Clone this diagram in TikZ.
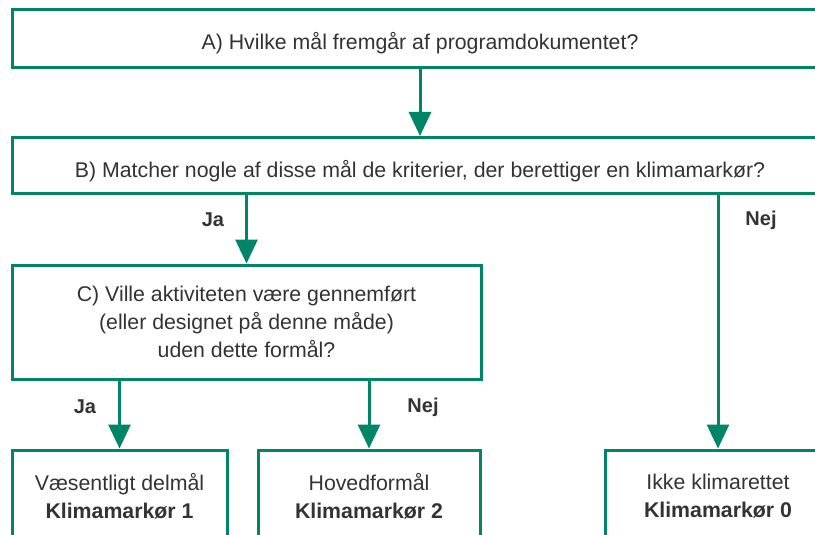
\documentclass[tikz,border=0pt]{standalone}
\usepackage{fontspec}
\setmainfont{Liberation Sans}
\usetikzlibrary{arrows.meta}
\definecolor{kgreen}{RGB}{0,133,102}
\definecolor{kgray}{RGB}{51,51,51}
\begin{document}
\begin{tikzpicture}[x=1pt,y=-1pt,
  box/.style={draw=kgreen, line width=3pt, inner sep=0pt, align=center, text=kgray,
    font=\fontsize{21.3}{28}\selectfont},
  lbl/.style={text=kgray, font=\fontsize{20}{24}\selectfont\bfseries, inner sep=0pt},
  arr/.style={draw=kgreen, line width=3pt, -{Triangle[width=22pt,length=24pt]}}]
\useasboundingbox (0,0) rectangle (815,535);
\clip (0,0) rectangle (815,535);
\fill[white] (0,0) rectangle (815,535);
\node[box, minimum width=816pt, minimum height=58pt, text height=22pt, text depth=0pt] (A) at (420,39) {A) Hvilke mål fremgår af programdokumentet?};
\node[box, minimum width=816pt, minimum height=56pt, text height=23pt, text depth=0pt] (B) at (420,165.5) {B) Matcher nogle af disse mål de kriterier, der berettiger en klimamarkør?};
\node[box, minimum width=469pt, minimum height=114pt] (C) at (246.5,322) {C) Ville aktiviteten være gennemført\\(eller designet på denne måde)\\uden dette formål?};
\node[box, minimum width=215pt, minimum height=92pt] (b1) at (119.5,496) {Væsentligt delmål\\\textbf{Klimamarkør 1}};
\node[box, minimum width=222pt, minimum height=92pt] (b2) at (369,496) {Hovedformål\\\textbf{Klimamarkør 2}};
\node[box, minimum width=226pt, minimum height=92pt] (b3) at (718,496) {Ikke klimarettet\\\textbf{Klimamarkør 0}};
\draw[arr] (A) -- (B);
\draw[arr] (B.south -| C.north) -- (C);
\draw[arr] (B.south -| b3.north) -- (b3);
\draw[arr] (C.south -| b1.north) -- (b1);
\draw[arr] (C.south -| b2.north) -- (b2);
\node[lbl] (ja1) at (213,220) {Ja};
\node[lbl] (nej1) at (761,220) {Nej};
\node[lbl] (ja2) at (85,407) {Ja};
\node[lbl] (nej2) at (423,407) {Nej};
\end{tikzpicture}
\end{document}
